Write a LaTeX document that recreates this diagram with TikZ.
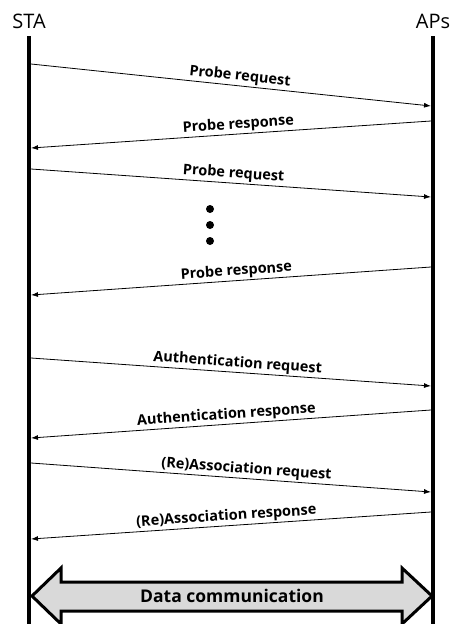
\documentclass[tikz,border=0pt]{standalone}
\usepackage{fontspec}
\setmainfont{Open Sans}
\usetikzlibrary{arrows.meta}

\begin{document}
\begin{tikzpicture}[x=1pt,y=-1pt,
    lifeline/.style ={line width=3.5pt},
    message/.style ={line width=0.8pt,-{Latex[length=7pt,width=5pt]}},
    msglabel/.style ={sloped,above,inner sep=1.5pt,font=\bfseries\fontsize{14.5}{16}\selectfont},
    station/.style ={anchor=base,font=\fontsize{20}{22}\selectfont}]
   \useasboundingbox (0,0) rectangle (453,624);

   \node[station] (S) at (29,28) {STA};
   \node[station] (P) at (433,28) {APs};

   % lifelines
   \coordinate (S0) at (29,36);
   \coordinate (S9) at (29,624);
   \coordinate (P0) at (433,36);
   \coordinate (P9) at (433,624);
   \draw[lifeline] (S0) to (S9);
   \draw[lifeline] (P0) to (P9);

   % message ends, STA side
   \coordinate (A1) at (31,64);
   \coordinate (A2) at (31,148);
   \coordinate (A3) at (31,169);
   \coordinate (A4) at (31,295);
   \coordinate (A5) at (31,358);
   \coordinate (A6) at (31,438);
   \coordinate (A7) at (31,463);
   \coordinate (A8) at (31,539);
   % message ends, AP side
   \coordinate (B1) at (431,106);
   \coordinate (B2) at (431,121);
   \coordinate (B3) at (431,197);
   \coordinate (B4) at (431,267);
   \coordinate (B5) at (431,386);
   \coordinate (B6) at (431,410);
   \coordinate (B7) at (431,492);
   \coordinate (B8) at (431,512);

   \draw[message] (A1) to node[msglabel,pos=0.52] {Probe request} (B1);
   \draw[message] (B2) to node[msglabel,pos=0.48] {Probe response} (A2);
   \draw[message] (A3) to node[msglabel,pos=0.505] {Probe request} (B3);
   \draw[message] (B4) to node[msglabel,pos=0.485] {Probe response} (A4);
   \draw[message] (A5) to node[msglabel,pos=0.515] {Authentication request} (B5);
   \draw[message] (B6) to node[msglabel,pos=0.51] {Authentication response} (A6);
   \draw[message] (A7) to node[msglabel,pos=0.537] {(Re)Association request} (B7);
   \draw[message] (B8) to node[msglabel,pos=0.51] {(Re)Association response} (A8);

   % more probes in between
   \fill (210,209) circle (4);
   \fill (210,225) circle (4);
   \fill (210,241) circle (4);

   % data exchange
   \draw[line width=3pt,fill=gray!30,line join=miter]
     (32,596) -- (61,568) -- (61,582) -- (402,582) -- (402,568) -- (432,596)
     -- (402,624) -- (402,611) -- (61,611) -- (61,624) -- cycle;
   \node[font=\bfseries\fontsize{17.5}{20}\selectfont] (D) at (232,596) {Data communication};
\end{tikzpicture}
\end{document}
